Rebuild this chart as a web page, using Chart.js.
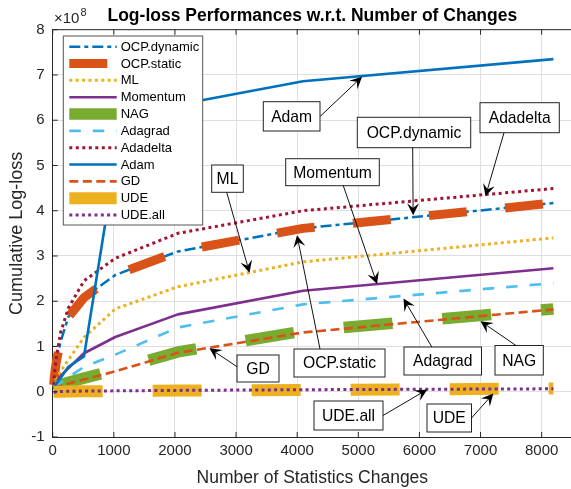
<!DOCTYPE html>
<html><head><meta charset="utf-8">
<script src="https://cdn.jsdelivr.net/npm/chart.js@4.4.1/dist/chart.umd.min.js"></script>
<style>html,body{margin:0;padding:0;background:#fff;overflow:hidden}</style>
</head><body>
<canvas id="c" width="571" height="489" style="width:571px;height:489px;display:block"></canvas>
<script>
// ---------- data ----------
const changes    = [16, 32, 64, 128, 256, 512, 1024, 2048, 4096, 8192];
const ocpDynamic = [0.15, 0.40, 0.70, 1.10, 1.65, 2.08, 2.58, 3.10, 3.61, 4.17];
const ocpStatic  = [0.15, 0.40, 0.70, 1.10, 1.65, 2.08, 2.58, 3.10, 3.61, 4.17];
const ml         = [0.12, 0.20, 0.30, 0.45, 0.70, 1.20, 1.83, 2.32, 2.87, 3.40];
const momentum   = [0.10, 0.15, 0.22, 0.35, 0.52, 0.85, 1.21, 1.71, 2.23, 2.73];
const nag        = [0.09, 0.10, 0.12, 0.15, 0.21, 0.30, 0.48, 0.88, 1.34, 1.83];
const adagrad    = [0.08, 0.10, 0.13, 0.20, 0.32, 0.55, 0.82, 1.42, 1.93, 2.40];
const adadelta   = [0.15, 0.45, 0.80, 1.30, 1.85, 2.45, 2.95, 3.50, 4.00, 4.49];
const adam       = [0.05, 0.10, 0.18, 0.30, 0.55, 0.78, 5.10, 6.34, 6.86, 7.35];
const gd         = [0.08, 0.09, 0.10, 0.13, 0.18, 0.27, 0.45, 0.86, 1.31, 1.82];
const ude        = [0.00, 0.00, 0.00, 0.00, 0.005, 0.01, 0.015, 0.025, 0.04, 0.07];
const udeAll     = [-0.01, -0.01, 0.00, 0.005, 0.01, 0.015, 0.02, 0.03, 0.045, 0.065];
const xTicks = [0, 1000, 2000, 3000, 4000, 5000, 6000, 7000, 8000];
const yTicks = [-1, 0, 1, 2, 3, 4, 5, 6, 7, 8];
const titleText = 'Log-loss Performances w.r.t. Number of Changes';
const xTitle = 'Number of Statistics Changes';
const yTitle = 'Cumulative Log-loss';

// ---------- styles ----------
const FONT = '"Liberation Sans", Arial, Helvetica, sans-serif';
const seriesDefs = [
  {label:'OCP.dynamic', data:ocpDynamic, color:'#0072BD', width:2.5, dash:[11,4,4,4], off:0},
  {label:'OCP.static',  data:ocpStatic,  color:'#D95319', width:9,   dash:[38,38.5], off:5},
  {label:'ML',          data:ml,         color:'#EDB120', width:3,   dash:[3,3.4], off:0},
  {label:'Momentum',    data:momentum,   color:'#7E2F8E', width:2.6, dash:[], off:0},
  {label:'NAG',         data:nag,        color:'#77AC30', width:11.5,dash:[49,50], off:0},
  {label:'Adagrad',     data:adagrad,    color:'#4DBEEE', width:2.6, dash:[11.5,12], off:0},
  {label:'Adadelta',    data:adadelta,   color:'#A2142F', width:3,   dash:[3,3.5], off:0},
  {label:'Adam',        data:adam,       color:'#0072BD', width:2.6, dash:[], off:0},
  {label:'GD',          data:gd,         color:'#D95319', width:2.6, dash:[9,4.5], off:0},
  {label:'UDE',         data:ude,        color:'#EDB120', width:12,  dash:[49,50], off:0},
  {label:'UDE.all',     data:udeAll,     color:'#7E2F8E', width:3,   dash:[3,3.3], off:0}
];
const notes = [
  {text:'Adam',        box:[263.3,101.7,320,131],   tail:[320,116.5],   head:[5061,6.96]},
  {text:'OCP.dynamic', box:[357.3,117.3,470.7,147.7], tail:[412.7,147.7], head:[5897,3.90]},
  {text:'Adadelta',    box:[480,102.7,559.3,132.7], tail:[504,132.7],   head:[7081,4.32]},
  {text:'Momentum',    box:[285.7,158.7,379.3,185.7], tail:[343.3,185.7], head:[5307,2.38]},
  {text:'ML',          box:[211.7,165,243.3,192.3], tail:[226.7,192.3], head:[3220,2.63]},
  {text:'GD',          box:[237,355,279,382],       tail:[237,366.7],   head:[2565,0.96]},
  {text:'OCP.static',  box:[294,349,385,377],       tail:[320,349],     head:[3997,3.46]},
  {text:'Adagrad',     box:[404,347,481.5,375],     tail:[431.8,347],   head:[5740,2.06]},
  {text:'NAG',         box:[495,345.5,543.3,375],   tail:[516,345.5],   head:[6999,1.56]},
  {text:'UDE.all',     box:[314,401,383,430],       tail:[383,415.5],   head:[6129,0.05]},
  {text:'UDE',         box:[427,404,471.5,432],     tail:[471.5,418],   head:[7209,-0.04]}
];

const n = seriesDefs.length;
const datasets = seriesDefs.map((s, i) => ({
  label: s.label,
  data: changes.map((x, k) => ({x: x, y: s.data[k]})),
  borderColor: s.color,
  backgroundColor: s.color,
  borderWidth: s.width,
  borderDash: s.dash,
  borderDashOffset: s.off,
  borderCapStyle: 'butt',
  borderJoinStyle: 'round',
  pointRadius: 0,
  fill: false,
  tension: 0,
  clip: 10,
  order: n - i
}));

function arrowTo(ctx, x0, y0, x1, y1) {
  const a = Math.atan2(y1 - y0, x1 - x0), c = Math.cos(a), s = Math.sin(a);
  const L = 12, W = 6, N = 0.6;
  ctx.beginPath(); ctx.moveTo(x0, y0); ctx.lineTo(x1 - c * L * N, y1 - s * L * N); ctx.stroke();
  ctx.beginPath();
  ctx.moveTo(x1, y1);
  ctx.lineTo(x1 - L * c - W * s, y1 - L * s + W * c);
  ctx.lineTo(x1 - L * N * c, y1 - L * N * s);
  ctx.lineTo(x1 - L * c + W * s, y1 - L * s - W * c);
  ctx.closePath(); ctx.fill();
}

const decor = {
  id: 'decor',
  afterDraw(chart) {
    const ctx = chart.ctx, ca = chart.chartArea, xs = chart.scales.x, ys = chart.scales.y;
    ctx.save();
    // top border
    ctx.strokeStyle = '#262626'; ctx.lineWidth = 1;
    ctx.beginPath(); ctx.moveTo(ca.left, ca.top); ctx.lineTo(ca.right, ca.top); ctx.stroke();
    // inward ticks
    ctx.beginPath();
    xTicks.forEach(v => { const p = xs.getPixelForValue(v);
      ctx.moveTo(p, ca.bottom); ctx.lineTo(p, ca.bottom - 5);
      ctx.moveTo(p, ca.top); ctx.lineTo(p, ca.top + 5); });
    yTicks.forEach(v => { const p = ys.getPixelForValue(v);
      ctx.moveTo(ca.left, p); ctx.lineTo(ca.left + 5, p); });
    ctx.stroke();
    // titles
    ctx.fillStyle = '#000'; ctx.textAlign = 'center'; ctx.textBaseline = 'middle';
    ctx.font = 'bold 17.5px ' + FONT;
    ctx.fillText(titleText, (ca.left + 572) / 2, 16);
    ctx.fillStyle = '#262626';
    ctx.font = '17.5px ' + FONT;
    ctx.fillText(xTitle, (ca.left + 572) / 2, 478);
    ctx.font = '18px ' + FONT;
    ctx.save(); ctx.translate(17, (ca.top + ca.bottom) / 2); ctx.rotate(-Math.PI / 2);
    ctx.fillText(yTitle, 0, 0); ctx.restore();
    // exponent
    ctx.textAlign = 'left'; ctx.textBaseline = 'alphabetic';
    ctx.font = '15px ' + FONT; ctx.fillText('\u00d710', 54, 23);
    const w = ctx.measureText('\u00d710').width;
    ctx.font = '11px ' + FONT; ctx.fillText('8', 54 + w + 1, 16);
    // legend
    const lx0 = 63.3, ly0 = 36, lx1 = 202.7, ly1 = 225;
    ctx.fillStyle = '#fff'; ctx.fillRect(lx0, ly0, lx1 - lx0, ly1 - ly0);
    ctx.strokeStyle = '#555'; ctx.lineWidth = 1; ctx.strokeRect(lx0, ly0, lx1 - lx0, ly1 - ly0);
    ctx.font = '13px ' + FONT; ctx.textBaseline = 'middle'; ctx.textAlign = 'left';
    chart.data.datasets.forEach((d, i) => {
      const y = 46.7 + i * 16.83;
      ctx.save();
      ctx.strokeStyle = d.borderColor; ctx.lineWidth = d.borderWidth; ctx.lineCap = 'butt';
      ctx.setLineDash(d.borderDash);
      ctx.beginPath(); ctx.moveTo(69.3, y); ctx.lineTo(116.7, y); ctx.stroke();
      ctx.restore();
      ctx.fillStyle = '#000'; ctx.fillText(d.label, 120.7, y + 0.5);
    });
    // annotations
    ctx.font = '15.7px ' + FONT;
    notes.forEach(a => {
      const [x0, y0, x1, y1] = a.box;
      ctx.fillStyle = '#fff'; ctx.fillRect(x0, y0, x1 - x0, y1 - y0);
      ctx.strokeStyle = '#222'; ctx.lineWidth = 1; ctx.strokeRect(x0, y0, x1 - x0, y1 - y0);
      ctx.fillStyle = '#000'; ctx.textAlign = 'center'; ctx.textBaseline = 'middle';
      ctx.fillText(a.text, (x0 + x1) / 2, (y0 + y1) / 2 + 1);
      const hx = xs.getPixelForValue(a.head[0]), hy = ys.getPixelForValue(a.head[1]);
      ctx.strokeStyle = '#111'; ctx.fillStyle = '#000'; ctx.lineWidth = 1;
      arrowTo(ctx, a.tail[0], a.tail[1], hx, hy);
    });
    ctx.restore();
  }
};

new Chart(document.getElementById('c'), {
  type: 'line',
  data: { datasets: datasets },
  options: {
    responsive: false, animation: false, devicePixelRatio: 1,
    layout: { padding: { top: 29.7, left: 0, right: 0, bottom: 0 } },
    plugins: { legend: { display: false }, tooltip: { enabled: false }, title: { display: false } },
    scales: {
      x: {
        type: 'linear', min: 0, max: 8480,
        afterBuildTicks: s => { s.ticks = xTicks.map(v => ({ value: v })); },
        afterFit: s => { s.height = 52; },
        ticks: { autoSkip: false, maxRotation: 0, padding: 5, color: '#262626',
                 font: { family: FONT, size: 15 }, callback: v => String(v) },
        grid: { color: '#dfdfdf', drawTicks: false, lineWidth: 1 },
        border: { color: '#262626', width: 1 }
      },
      y: {
        type: 'linear', min: -1, max: 8,
        afterBuildTicks: s => { s.ticks = yTicks.map(v => ({ value: v })); },
        afterFit: s => { s.width = 52.7; },
        ticks: { padding: 8, color: '#262626', font: { family: FONT, size: 15 }, callback: v => String(v) },
        grid: { color: '#dfdfdf', drawTicks: false, lineWidth: 1 },
        border: { color: '#262626', width: 1 }
      }
    }
  },
  plugins: [decor]
});
</script>
</body></html>
